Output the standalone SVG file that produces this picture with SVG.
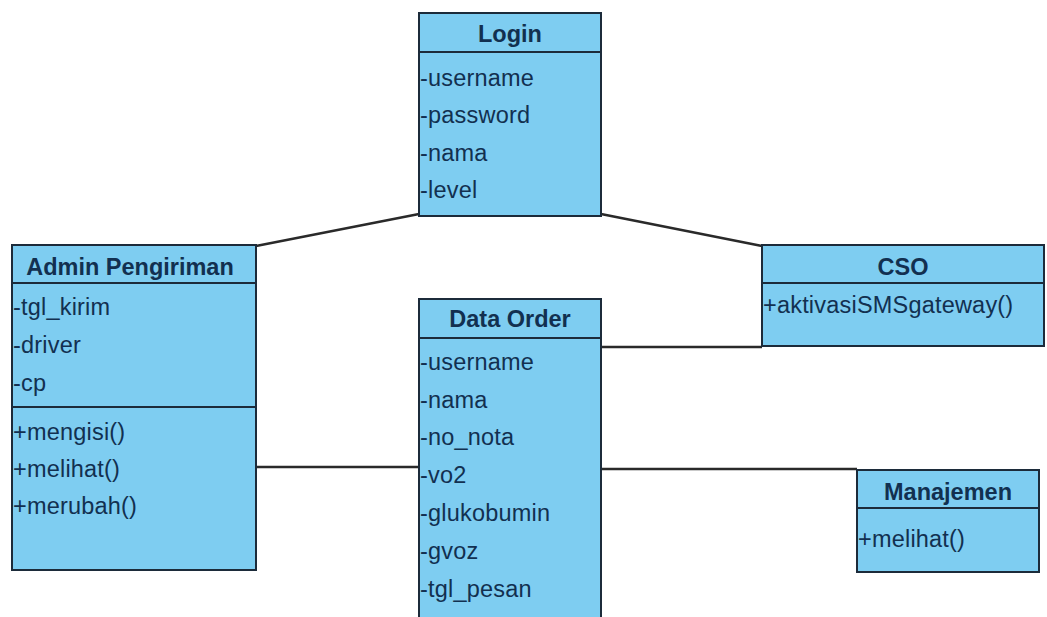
<svg xmlns="http://www.w3.org/2000/svg" width="1047" height="617" viewBox="0 0 1047 617">
<style>
.box{fill:#7ecdf1;stroke:#1c2b3a;stroke-width:2}
.div{stroke:#1c2b3a;stroke-width:2}
.t{font-family:"Liberation Sans",Arial,sans-serif;font-size:23.5px;fill:#123050;letter-spacing:0.2px}
.h{font-family:"Liberation Sans",Arial,sans-serif;font-size:23.5px;font-weight:bold;fill:#123050;text-anchor:middle}
.c{stroke:#2a2a2a;stroke-width:2.5;fill:none}
</style>
<rect width="1047" height="617" fill="#ffffff"/>
<g id="connectors">
<line class="c" x1="419" y1="214" x2="256" y2="246"/>
<line class="c" x1="601" y1="214" x2="762" y2="246"/>
<line class="c" x1="601" y1="347" x2="762" y2="347"/>
<line class="c" x1="256" y1="467" x2="419" y2="467"/>
<line class="c" x1="601" y1="469" x2="857" y2="469"/>
</g>
<g id="login">
<rect class="box" x="419" y="13" width="182" height="203"/>
<line class="div" x1="419" y1="52" x2="601" y2="52"/>
<text class="h" x="510" y="42">Login</text>
<text class="t" x="420" y="86">-username</text>
<text class="t" x="420" y="123">-password</text>
<text class="t" x="420" y="161">-nama</text>
<text class="t" x="420" y="198">-level</text>
</g>
<g id="admin">
<rect class="box" x="12" y="245" width="244" height="325"/>
<line class="div" x1="12" y1="283" x2="256" y2="283"/>
<line class="div" x1="12" y1="407" x2="256" y2="407"/>
<text class="h" x="130" y="275">Admin Pengiriman</text>
<text class="t" x="13" y="315">-tgl_kirim</text>
<text class="t" x="13" y="353">-driver</text>
<text class="t" x="13" y="391">-cp</text>
<text class="t" x="13" y="440">+mengisi()</text>
<text class="t" x="13" y="477">+melihat()</text>
<text class="t" x="13" y="514">+merubah()</text>
</g>
<g id="dataorder">
<rect class="box" x="419" y="299" width="182" height="330"/>
<line class="div" x1="419" y1="338" x2="601" y2="338"/>
<text class="h" x="510" y="327">Data Order</text>
<text class="t" x="420" y="370">-username</text>
<text class="t" x="420" y="408">-nama</text>
<text class="t" x="420" y="445">-no_nota</text>
<text class="t" x="420" y="483">-vo2</text>
<text class="t" x="420" y="521">-glukobumin</text>
<text class="t" x="420" y="559">-gvoz</text>
<text class="t" x="420" y="597">-tgl_pesan</text>
</g>
<g id="cso">
<rect class="box" x="762" y="245" width="282" height="101"/>
<line class="div" x1="762" y1="283" x2="1044" y2="283"/>
<text class="h" x="903" y="275">CSO</text>
<text class="t" x="763" y="313">+aktivasiSMSgateway()</text>
</g>
<g id="manajemen">
<rect class="box" x="857" y="470" width="182" height="102"/>
<line class="div" x1="857" y1="508" x2="1039" y2="508"/>
<text class="h" x="948" y="500">Manajemen</text>
<text class="t" x="858" y="547">+melihat()</text>
</g>
</svg>
